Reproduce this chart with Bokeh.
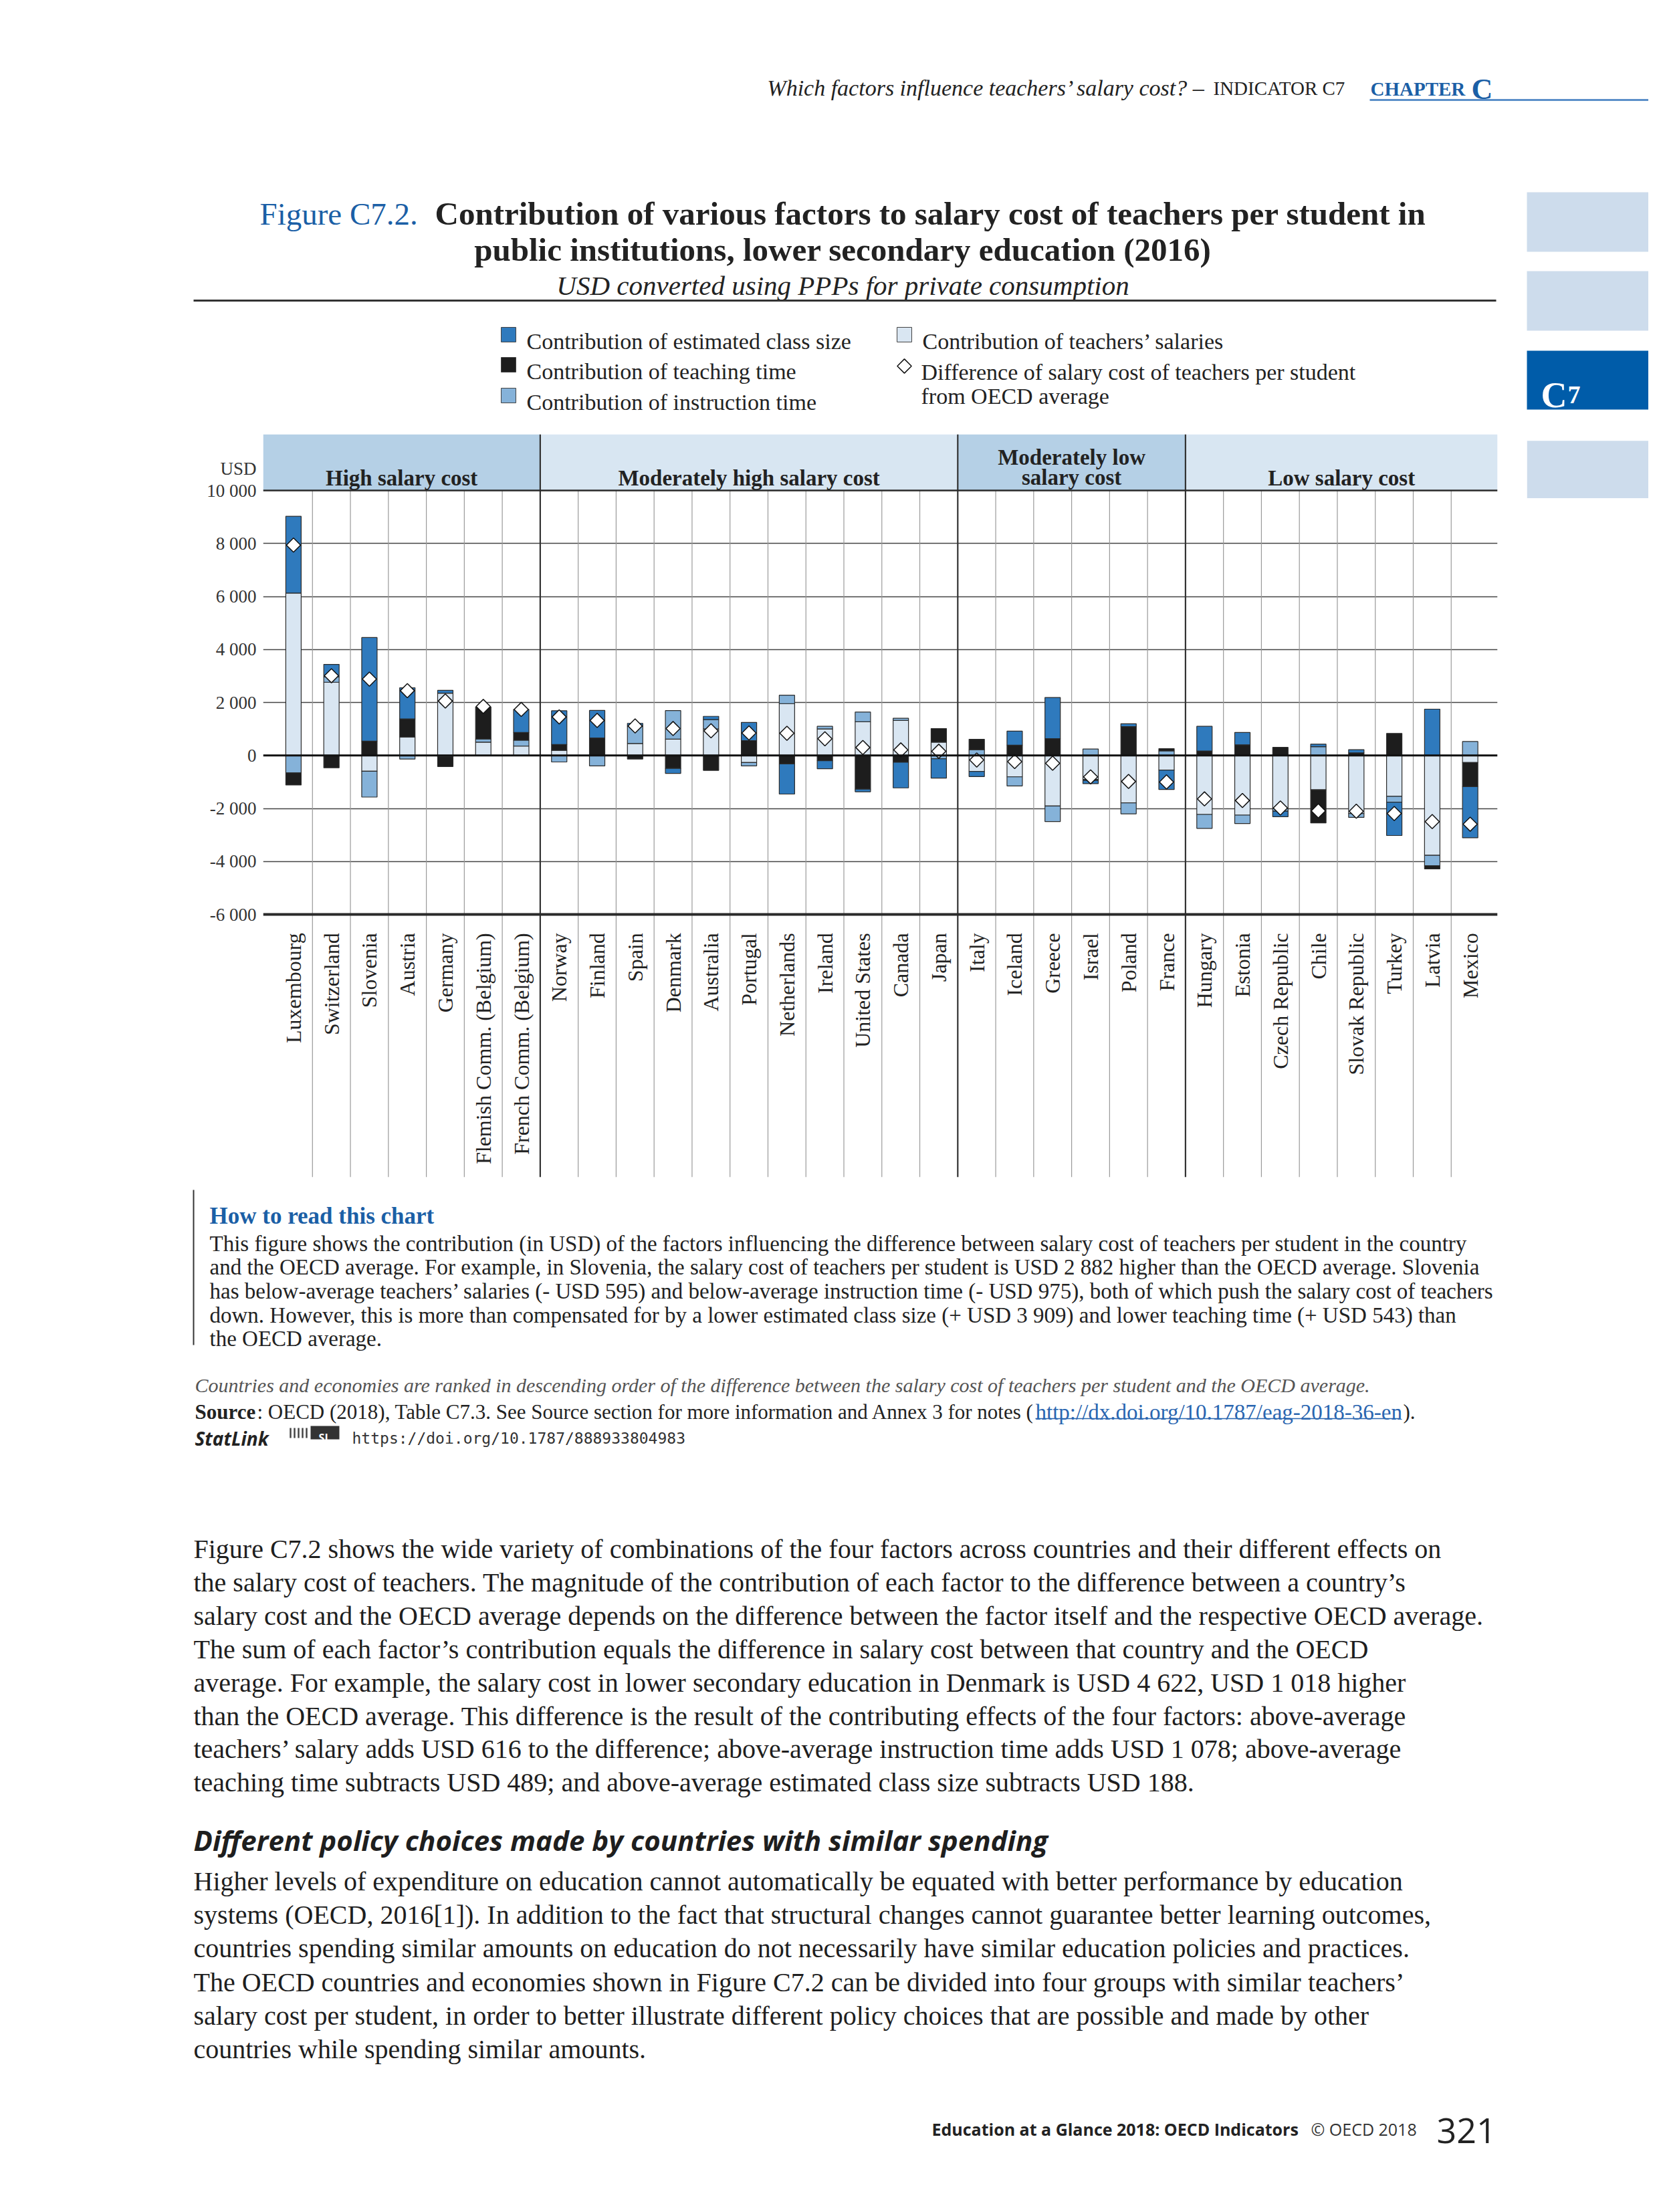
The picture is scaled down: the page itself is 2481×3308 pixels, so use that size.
import numpy as np
from bokeh.plotting import figure
from bokeh.models import Range1d, FixedTicker, Span
from bokeh.layouts import column, row
from bokeh.core.properties import value
from bokeh.embed import file_html
from bokeh.resources import INLINE

# ---------------- data ----------------
countries = ["Luxembourg", "Switzerland", "Slovenia", "Austria", "Germany",
             "Flemish Comm. (Belgium)", "French Comm. (Belgium)",
             "Norway", "Finland", "Spain", "Denmark", "Australia", "Portugal",
             "Netherlands", "Ireland", "United States", "Canada", "Japan",
             "Italy", "Iceland", "Greece", "Israel", "Poland", "France",
             "Hungary", "Estonia", "Czech Republic", "Chile", "Slovak Republic",
             "Turkey", "Latvia", "Mexico"]
group_labels = [["High salary cost"], ["Moderately high salary cost"],
                ["Moderately low", "salary cost"], ["Low salary cost"]]
group_sizes = [7, 11, 6, 8]

teachers_salaries = [6128, 2764, -595, 697, 2349, 502, 355,
                     196, 0, 453, 616, 1000, -269, 1957, 1003, 1272, 1321, 502,
                     -599, -807, -1908, -905, -1786, -550,
                     -2226, -2251, -2006, -1297, -2190, -1541, -3767, -269]
instruction_time = [-660, 196, -975, -135, -49, 122, 220,
                    -245, -391, 650, 1078, 355, -122, 318, 98, 367, 86, -122,
                    220, -342, -587, 245, -416, 171,
                    -526, -318, -98, 330, -147, -220, -391, 526]
teaching_time = [-453, -465, 543, 685, -367, 1211, 294,
                 220, 660, -135, -489, -563, 563, -318, -196, -1272, -257, 514,
                 391, 391, 636, -37, 1089, 86,
                 171, 404, 306, -1248, 98, 832, -122, -905]
class_size = [2899, 477, 3909, 1174, 110, 0, 868,
              1272, 1040, 110, -188, 122, 685, -1138, -306, -98, -966, -734,
              -196, 526, 1553, -122, 110, -734,
              930, 465, -208, 98, 122, -1260, 1749, -1933]
difference = [7940, 3010, 2882, 2446, 2055, 1850, 1737,
              1456, 1321, 1113, 1018, 930, 848, 838, 630, 300, 210, 159,
              -171, -232, -294, -807, -980, -1000,
              -1639, -1700, -1982, -2092, -2104, -2190, -2495, -2593]

y_tick_values = [10000, 8000, 6000, 4000, 2000, 0, -2000, -4000, -6000]
y_tick_labels = ["10 000", "8 000", "6 000", "4 000", "2 000", "0",
                 "-2 000", "-4 000", "-6 000"]

SERIF = value("Liberation Serif")
SANS = value("Open Sans")
MONO = value("DejaVu Sans Mono")

C_SAL = "#d9e6f2"
C_INS = "#85b2d9"
C_TEA = "#1d1d1d"
C_CLS = "#2f7abd"
BLUE_TXT = "#1b5fa6"


def blank(w, h, xr, yr):
    f = figure(width=w, height=h, x_range=Range1d(*xr), y_range=Range1d(*yr),
               output_backend="svg", toolbar_location=None, title=None,
               x_axis_type=None, y_axis_type=None, min_border=0,
               outline_line_color=None)
    return f


def txt(f, x, y, s, size, color="#222222", font=SERIF, style="normal",
        align="left", baseline="alphabetic", angle=0.0):
    f.text(x=[x], y=[y], text=[s], text_font=font, text_font_size=f"{size}px",
           text_font_style=style, text_color=color, text_align=align,
           text_baseline=baseline, angle=angle)


# ---------------- top block (page y 8..640) ----------------
top = blank(2465, 632, (8, 2473), (640, 8))
txt(top, 1812, 139, "Which factors influence teachers’ salary cost? –", 34, style="italic", align="right")
txt(top, 1822, 139, "INDICATOR C7", 29)
txt(top, 2057, 140, "CHAPTER", 29, color=BLUE_TXT, style="bold")
txt(top, 2208, 141, "C", 44, color=BLUE_TXT, style="bold")
top.segment(x0=[2056], y0=[157], x1=[2473], y1=[157], line_color="#5b8fc9", line_width=3)

# side tabs
top.quad(left=[2291, 2291], right=[2473, 2473], top=[295, 413], bottom=[384, 502],
         fill_color="#cddcec", line_color=None)
top.quad(left=[2291], right=[2473], top=[532], bottom=[620], fill_color="#005ca9", line_color=None)
txt(top, 2312, 598, "C", 54, color="white", style="bold")
txt(top, 2352, 598, "7", 38, color="white", style="bold")

# title
txt(top, 396, 327, "Figure C7.2.", 47, color=BLUE_TXT)
txt(top, 658, 327, "Contribution of various factors to salary cost of teachers per student in", 49, style="bold")
txt(top, 1268, 381, "public institutions, lower secondary education (2016)", 49, style="bold", align="center")
txt(top, 1268, 434, "USD converted using PPPs for private consumption", 41, style="italic", align="center")
top.segment(x0=[297], y0=[457], x1=[2245], y1=[457], line_color="#333333", line_width=3)

# legend
leg_sq = [(757, 508, C_CLS, "Contribution of estimated class size"),
          (757, 553, C_TEA, "Contribution of teaching time"),
          (757, 599, C_INS, "Contribution of instruction time"),
          (1349, 508, C_SAL, "Contribution of teachers’ salaries")]
for x, yc, col, lab in leg_sq:
    top.quad(left=[x], right=[x + 22], top=[yc - 11], bottom=[yc + 11],
             fill_color=col, line_color="#444444", line_width=1)
    txt(top, x + 38, yc + 10, lab, 34)
top.scatter(x=[1360], y=[555], marker="square", angle=np.pi / 4, size=15,
            fill_color="white", line_color="#111111", line_width=1.5)
txt(top, 1385, 564, "Difference of salary cost of teachers per student", 34)
txt(top, 1385, 600, "from OECD average", 34)

# ---------------- chart (page y 640..1780) ----------------
n = len(countries)
idx = np.arange(n)
Y_TOP, Y_BOT = 12121, -15917
chart = figure(width=2283, height=1140, x_range=Range1d(-0.80, 31.72),
               y_range=Range1d(Y_BOT, Y_TOP), output_backend="svg",
               toolbar_location=None, title=None, x_axis_type=None,
               min_border_left=393, min_border_right=44, min_border_top=17,
               min_border_bottom=12, outline_line_color=None)

# group bands
starts = np.concatenate([[0], np.cumsum(group_sizes)[:-1]])
band_cols = ["#b5d0e6", "#d8e6f2", "#b5d0e6", "#d8e6f2"]
for g, (s, k) in enumerate(zip(starts, group_sizes)):
    x0 = -0.80 if g == 0 else s - 0.5
    x1 = 31.72 if g == len(group_sizes) - 1 else s + k - 0.5
    chart.quad(left=[x0], right=[x1], bottom=[10000], top=[Y_TOP],
               fill_color=band_cols[g], line_color=None)
    lines = group_labels[g]
    ys = [10480] if len(lines) == 1 else [11260, 10500]
    for ln, yy in zip(lines, ys):
        txt(chart, (x0 + x1) / 2, yy, ln, 33, style="bold", align="center")

# separators
group_bounds = set((starts[1:] - 0.5).tolist())
minor = [i + 0.5 for i in range(n - 1) if (i + 0.5) not in group_bounds]
chart.segment(x0=minor, y0=[10000] * len(minor), x1=minor, y1=[Y_BOT] * len(minor),
              line_color="#9a9a9a", line_width=1.2)
gb = sorted(group_bounds)
chart.segment(x0=gb, y0=[Y_TOP] * len(gb), x1=gb, y1=[Y_BOT] * len(gb),
              line_color="#333333", line_width=2.2)

# stacked bars
series = [(teachers_salaries, C_SAL), (instruction_time, C_INS),
          (teaching_time, C_TEA), (class_size, C_CLS)]
pos = np.zeros(n)
neg = np.zeros(n)
for vals, col in series:
    v = np.array(vals, dtype=float)
    bottom = np.where(v >= 0, pos, neg + v)
    topv = np.where(v >= 0, pos + v, neg)
    pos = pos + np.clip(v, 0, None)
    neg = neg + np.clip(v, None, 0)
    m = v != 0
    chart.vbar(x=idx[m], bottom=bottom[m], top=topv[m], width=0.405,
               fill_color=col, line_color="#2b2b2b", line_width=1.2)

chart.scatter(x=idx, y=difference, marker="square", angle=np.pi / 4, size=15,
              fill_color="white", line_color="#111111", line_width=1.5)

# country labels
chart.text(x=idx, y=[-6700] * n, text=countries, angle=np.pi / 2,
           text_align="right", text_baseline="middle", text_font=SERIF,
           text_font_size="32px", text_color="#222222")

# grid + axis
chart.ygrid.ticker = FixedTicker(ticks=[-4000, -2000, 2000, 4000, 6000, 8000])
chart.ygrid.grid_line_color = "#444444"
chart.ygrid.grid_line_width = 1.3
chart.add_layout(Span(location=10000, dimension="width", line_color="#2a2a2a", line_width=2.5))
chart.add_layout(Span(location=0, dimension="width", line_color="#111111", line_width=3))
chart.add_layout(Span(location=-6000, dimension="width", line_color="#2a2a2a", line_width=4))

yax = chart.yaxis[0]
yax.ticker = FixedTicker(ticks=y_tick_values + [10809])
ov = {v: l for v, l in zip(y_tick_values, y_tick_labels)}
ov[10809] = "USD"
yax.major_label_overrides = ov
yax.axis_line_color = None
yax.major_tick_line_color = None
yax.minor_tick_line_color = None
yax.major_tick_out = 0
yax.major_tick_in = 0
yax.major_label_standoff = 10
yax.major_label_text_font = "Liberation Serif"
yax.major_label_text_font_size = "27px"
yax.major_label_text_color = "#333333"

side = blank(182, 1140, (2291, 2473), (1780, 640))
side.quad(left=[2291], right=[2473], top=[650], bottom=[738], fill_color="#cddcec", line_color=None)

# ---------------- bottom block (page y 1780..3300) ----------------
bot = blank(2465, 1520, (8, 2473), (3300, 1780))
bot.segment(x0=[297], y0=[1787], x1=[297], y1=[2019], line_color="#333333", line_width=2)
txt(bot, 321, 1826, "How to read this chart", 35, color=BLUE_TXT, style="bold")
how = ["This figure shows the contribution (in USD) of the factors influencing the difference between salary cost of teachers per student in the country",
       "and the OECD average. For example, in Slovenia, the salary cost of teachers per student is USD 2 882 higher than the OECD average. Slovenia",
       "has below-average teachers’ salaries (- USD 595) and below-average instruction time (- USD 975), both of which push the salary cost of teachers",
       "down. However, this is more than compensated for by a lower estimated class size (+ USD 3 909) and lower teaching time (+ USD 543) than",
       "the OECD average."]
for i, ln in enumerate(how):
    txt(bot, 321, 1867 + i * 35.7, ln, 33)

txt(bot, 299, 2079, "Countries and economies are ranked in descending order of the difference between the salary cost of teachers per student and the OECD average.", 30, color="#555555", style="italic")
txt(bot, 299, 2119, "Source", 31, style="bold")
txt(bot, 392, 2119, ": OECD (2018), Table C7.3. See Source section for more information and Annex 3 for notes (", 31)
txt(bot, 1556, 2119, "http://dx.doi.org/10.1787/eag-2018-36-en", 33, color="#2a66b0")
bot.segment(x0=[1556], y0=[2129], x1=[2100], y1=[2129], line_color="#2a66b0", line_width=1.5)
txt(bot, 2106, 2119, ").", 31)
txt(bot, 299, 2158, "StatLink", 28, color="#222222", font=SANS, style="bold italic")
stripes = [442, 448, 454, 460, 466]
bot.segment(x0=stripes, y0=[2158] * 5, x1=stripes, y1=[2143] * 5, line_color="#444444", line_width=2.5)
bot.quad(left=[472], right=[515], top=[2140], bottom=[2160], fill_color="#333333", line_color=None)
txt(bot, 493, 2157, "SL", 16, color="white", font=SANS, style="bold", align="center")
txt(bot, 534, 2158, "https://doi.org/10.1787/888933804983", 23, color="#333333", font=MONO)

para1 = ["Figure C7.2 shows the wide variety of combinations of the four factors across countries and their different effects on",
         "the salary cost of teachers. The magnitude of the contribution of each factor to the difference between a country’s",
         "salary cost and the OECD average depends on the difference between the factor itself and the respective OECD average.",
         "The sum of each factor’s contribution equals the difference in salary cost between that country and the OECD",
         "average. For example, the salary cost in lower secondary education in Denmark is USD 4 622, USD 1 018 higher",
         "than the OECD average. This difference is the result of the contributing effects of the four factors: above-average",
         "teachers’ salary adds USD 616 to the difference; above-average instruction time adds USD 1 078; above-average",
         "teaching time subtracts USD 489; and above-average estimated class size subtracts USD 188."]
for i, ln in enumerate(para1):
    txt(bot, 297, 2324 + i * 49.9, ln, 40, color="#1e1e1e")

txt(bot, 297, 2759, "Different policy choices made by countries with similar spending", 42,
    color="#1e1e1e", font=SANS, style="bold italic")

para2 = ["Higher levels of expenditure on education cannot automatically be equated with better performance by education",
         "systems (OECD, 2016[1]). In addition to the fact that structural changes cannot guarantee better learning outcomes,",
         "countries spending similar amounts on education do not necessarily have similar education policies and practices.",
         "The OECD countries and economies shown in Figure C7.2 can be divided into four groups with similar teachers’",
         "salary cost per student, in order to better illustrate different policy choices that are possible and made by other",
         "countries while spending similar amounts."]
for i, ln in enumerate(para2):
    txt(bot, 297, 2821 + i * 50.2, ln, 40, color="#1e1e1e")

txt(bot, 1401, 3191, "Education at a Glance 2018: OECD Indicators", 25, font=SANS, style="bold")
txt(bot, 1968, 3191, "© OECD 2018", 25, color="#333333", font=SANS)
txt(bot, 2156, 3194, "321", 52, font=SANS)

layout = column(top, row(chart, side), bot)
open("out.html", "w").write(file_html(layout, INLINE))
